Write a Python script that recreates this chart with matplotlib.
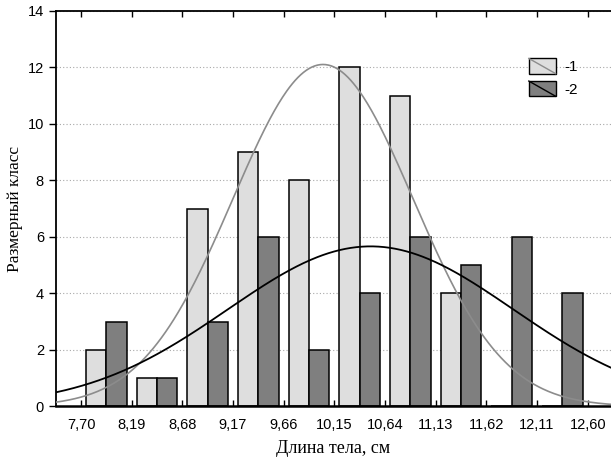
import numpy as np
import matplotlib
matplotlib.use("Agg")
import matplotlib.pyplot as plt
from matplotlib.patches import Rectangle
from matplotlib.lines import Line2D
from matplotlib.legend_handler import HandlerBase

# bin edges / tick labels
edges = [7.70, 8.19, 8.68, 9.17, 9.66, 10.15, 10.64, 11.13, 11.62, 12.11, 12.60]
tick_labels = ["7,70", "8,19", "8,68", "9,17", "9,66", "10,15",
               "10,64", "11,13", "11,62", "12,11", "12,60"]
bin_w = 0.49

# counts per bin (series 1 and 2)
counts1 = [2, 1, 7, 9, 8, 12, 11, 4, 0, 0]
counts2 = [3, 1, 3, 6, 2, 4, 6, 5, 6, 4]

# fitted normal curves (mean, sd)
fit1_mean, fit1_sd = 10.04, 0.872
fit2_mean, fit2_sd = 10.50, 1.38

light = "#dedede"
dark = "#7f7f7f"


class BoxDiag(HandlerBase):
    def create_artists(self, legend, orig, xd, yd, w, h, fontsize, trans):
        r = Rectangle((-xd, -yd), w, h, facecolor=orig[0], edgecolor="black",
                      linewidth=1.0, transform=trans)
        ln = Line2D([-xd, -xd + w], [-yd + h, -yd], color=orig[1],
                    linewidth=1.0, transform=trans)
        return [r, ln]


fig = plt.figure(figsize=(6.11, 4.65), dpi=100)
ax = fig.add_axes([0.0912, 0.126, 0.9088, 0.8504])

left_edges = np.array(edges[:-1])
ax.bar(left_edges + 0.1 * bin_w, counts1, width=0.4 * bin_w, align="edge",
       color=light, edgecolor="black", linewidth=1.1, zorder=2)
ax.bar(left_edges + 0.5 * bin_w, counts2, width=0.4 * bin_w, align="edge",
       color=dark, edgecolor="black", linewidth=1.1, zorder=2)

x0 = edges[0] - 0.5 * bin_w
x1 = edges[0] + 10.46 * bin_w
xs = np.linspace(x0, x1, 400)
n1 = sum(counts1)
n2 = sum(counts2)
y1 = n1 * bin_w * np.exp(-0.5 * ((xs - fit1_mean) / fit1_sd) ** 2) / (fit1_sd * np.sqrt(2 * np.pi))
y2 = n2 * bin_w * np.exp(-0.5 * ((xs - fit2_mean) / fit2_sd) ** 2) / (fit2_sd * np.sqrt(2 * np.pi))
ax.plot(xs, y1, color="#8c8c8c", linewidth=1.2, zorder=3)
ax.plot(xs, y2, color="black", linewidth=1.3, zorder=4)

ax.set_xlim(x0, x1)
ax.set_ylim(0, 14)
ax.set_xticks(edges)
ax.set_xticklabels(tick_labels)
ax.set_yticks(range(0, 15, 2))
ax.yaxis.grid(True, linestyle=(0, (1, 2)), color="#a8a8a8", linewidth=0.8)
ax.set_axisbelow(True)

for s in ["left", "top"]:
    ax.spines[s].set_linewidth(1.3)
ax.spines["bottom"].set_linewidth(1.8)
ax.spines["right"].set_visible(False)

ax.tick_params(axis="x", direction="in", top=True, length=4, width=1,
               labelsize=10.5, pad=8)
ax.tick_params(axis="y", direction="out", length=5, width=1, labelsize=10.5)
ax.tick_params(axis="y", which="both", right=True)

ax.set_xlabel("Длина тела, см", family="Liberation Serif", fontsize=13, labelpad=6)
ax.set_ylabel("Размерный класс", family="Liberation Serif", fontsize=12.5, labelpad=3)
for lab in ax.get_xticklabels() + ax.get_yticklabels():
    lab.set_family("Liberation Sans")

ax.legend([(light, "#8c8c8c"), (dark, "black")], ["-1", "-2"],
          handler_map={tuple: BoxDiag()}, loc="upper left",
          bbox_to_anchor=(0.852, 0.88), frameon=False, borderpad=0,
          borderaxespad=0, handlelength=1.75, handleheight=1.15,
          handletextpad=0.55, labelspacing=0.45,
          prop={"family": "Liberation Sans", "size": 11})

fig.savefig("out.png", dpi=100)
